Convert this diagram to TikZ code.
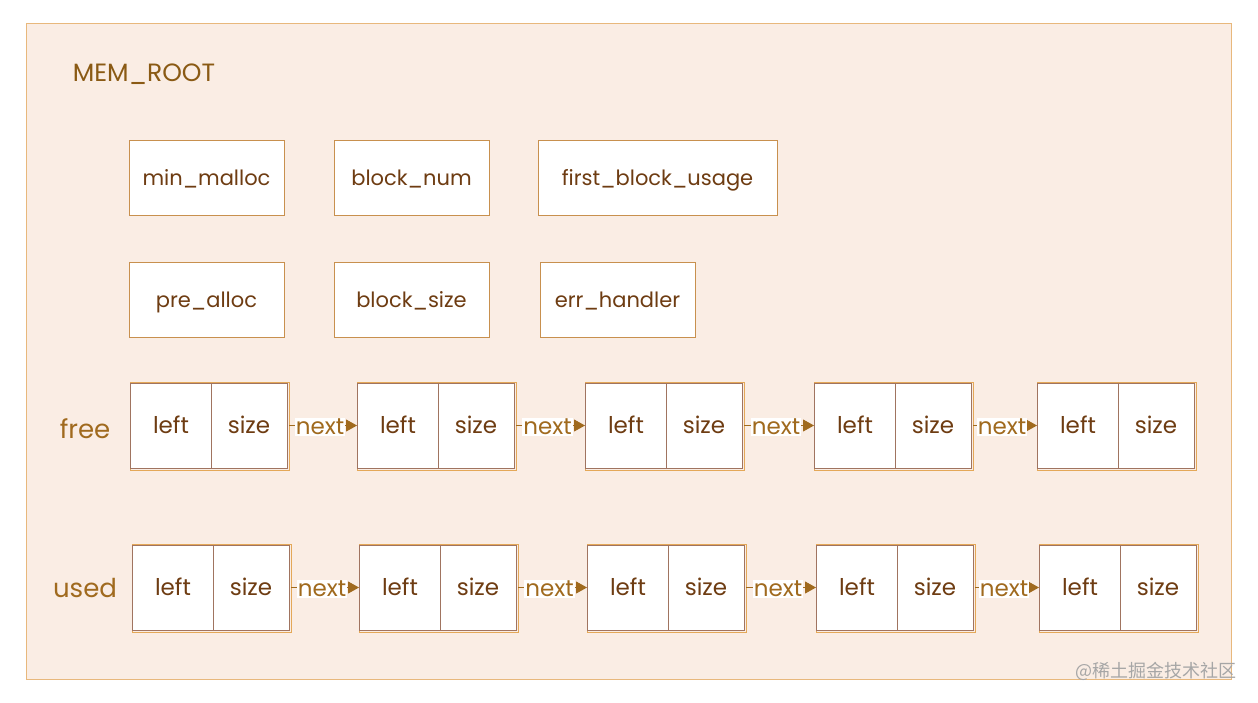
\documentclass[tikz,border=0pt]{standalone}
\usepackage{fontspec}
\setmainfont{Poppins}
\newfontfamily\cjkfont{Noto Sans CJK SC}
\usetikzlibrary{arrows.meta}
\definecolor{bgpeach}{HTML}{FAEDE4}
\definecolor{frameor}{HTML}{E8B87C}
\definecolor{boxline}{HTML}{C8904E}
\definecolor{innerline}{HTML}{A07460}
\definecolor{outerline}{HTML}{E4A858}
\definecolor{txtbrown}{HTML}{6E3C12}
\definecolor{titlebrown}{HTML}{8A5A14}
\definecolor{arrowbrown}{HTML}{A06A1E}
\tikzset{
  x=1pt, y=-1pt,
  fieldbox/.style={draw=boxline, fill=white, line width=0.9pt, minimum height=75pt},
  fieldtext/.style={font=\fontsize{21}{24}\selectfont, text=txtbrown, text height=15pt, text depth=5pt},
  cell/.style={font=\fontsize{23}{26}\selectfont, text=txtbrown, text height=16pt, text depth=5pt},
  nextarrow/.style={draw=arrowbrown, line width=0.9pt, -{Triangle[length=11pt,width=12pt]}},
  nextlabel/.style={fill=white, inner sep=1pt, font=\fontsize{23}{26}\selectfont, text=arrowbrown},
  listlabel/.style={font=\fontsize{26}{30}\selectfont, text=arrowbrown},
}
\newcommand{\listblock}[4]{% name, x left, y top, y bottom
  \fill[white] (#2,#3) rectangle ++(157,#4-#3);
  \draw[outerline, line width=1pt] (#2,#3-1) rectangle ++(159,#4-#3+3);
  \draw[innerline, line width=0.9pt] (#2,#3) rectangle ++(157,#4-#3);
  \draw[innerline, line width=0.9pt] (#2+81,#3) -- (#2+81,#4);
  \node[cell] at (#2+41,#3/2+#4/2+2) {left};
  \node[cell] at (#2+119,#3/2+#4/2+2) {size};
  \coordinate (#1W) at (#2,#3/2+#4/2);
  \coordinate (#1E) at (#2+159,#3/2+#4/2);
}
\newcommand{\field}[5]{% name, cx, cy, width, text
  \node[fieldbox, minimum width=#4pt] (#1) at (#2,#3) {};
  \node[fieldtext] at (#2,#3+3) {#5};
}
\begin{document}
\begin{tikzpicture}
\useasboundingbox (0,0) rectangle (1258,702);
\fill[white] (0,0) rectangle (1258,702);
\draw[frameor, fill=bgpeach, line width=1pt] (26,23) rectangle (1231,679);
\node[font=\fontsize{25}{28}\selectfont, text=titlebrown] (title) at (144,74) {MEM\_ROOT};
% fields
\field{minmalloc}{206.5}{177.5}{155}{min\_malloc}
\field{blocknum}{411.5}{177.5}{155}{block\_num}
\field{firstblock}{657.5}{177.5}{239}{first\_block\_usage}
\field{prealloc}{206.5}{299.5}{155}{pre\_alloc}
\field{blocksize}{411.5}{299.5}{155}{block\_size}
\field{errhandler}{617.5}{299.5}{155}{err\_handler}
% labels
\node[listlabel] (freelbl) at (85,429) {free};
\node[listlabel] (usedlbl) at (85,588) {used};
% free list
\listblock{f1}{130}{383}{468}
\listblock{f2}{357}{383}{468}
\listblock{f3}{585}{383}{468}
\listblock{f4}{814}{383}{468}
\listblock{f5}{1037}{383}{468}
% used list
\listblock{u1}{132}{545}{630}
\listblock{u2}{359}{545}{630}
\listblock{u3}{587}{545}{630}
\listblock{u4}{816}{545}{630}
\listblock{u5}{1039}{545}{630}
\foreach \a/\b in {f1/f2,f2/f3,f3/f4,f4/f5,u1/u2,u2/u3,u3/u4,u4/u5}{
  \draw[nextarrow] (\a E) -- node[nextlabel, xshift=-3pt, yshift=-1pt]{next} (\b W);
}
\node[text=black!35, font=\cjkfont\fontsize{18}{21}\selectfont, anchor=east] (wm) at (1240,671) {@稀土掘金技术社区};
\end{tikzpicture}
\end{document}
